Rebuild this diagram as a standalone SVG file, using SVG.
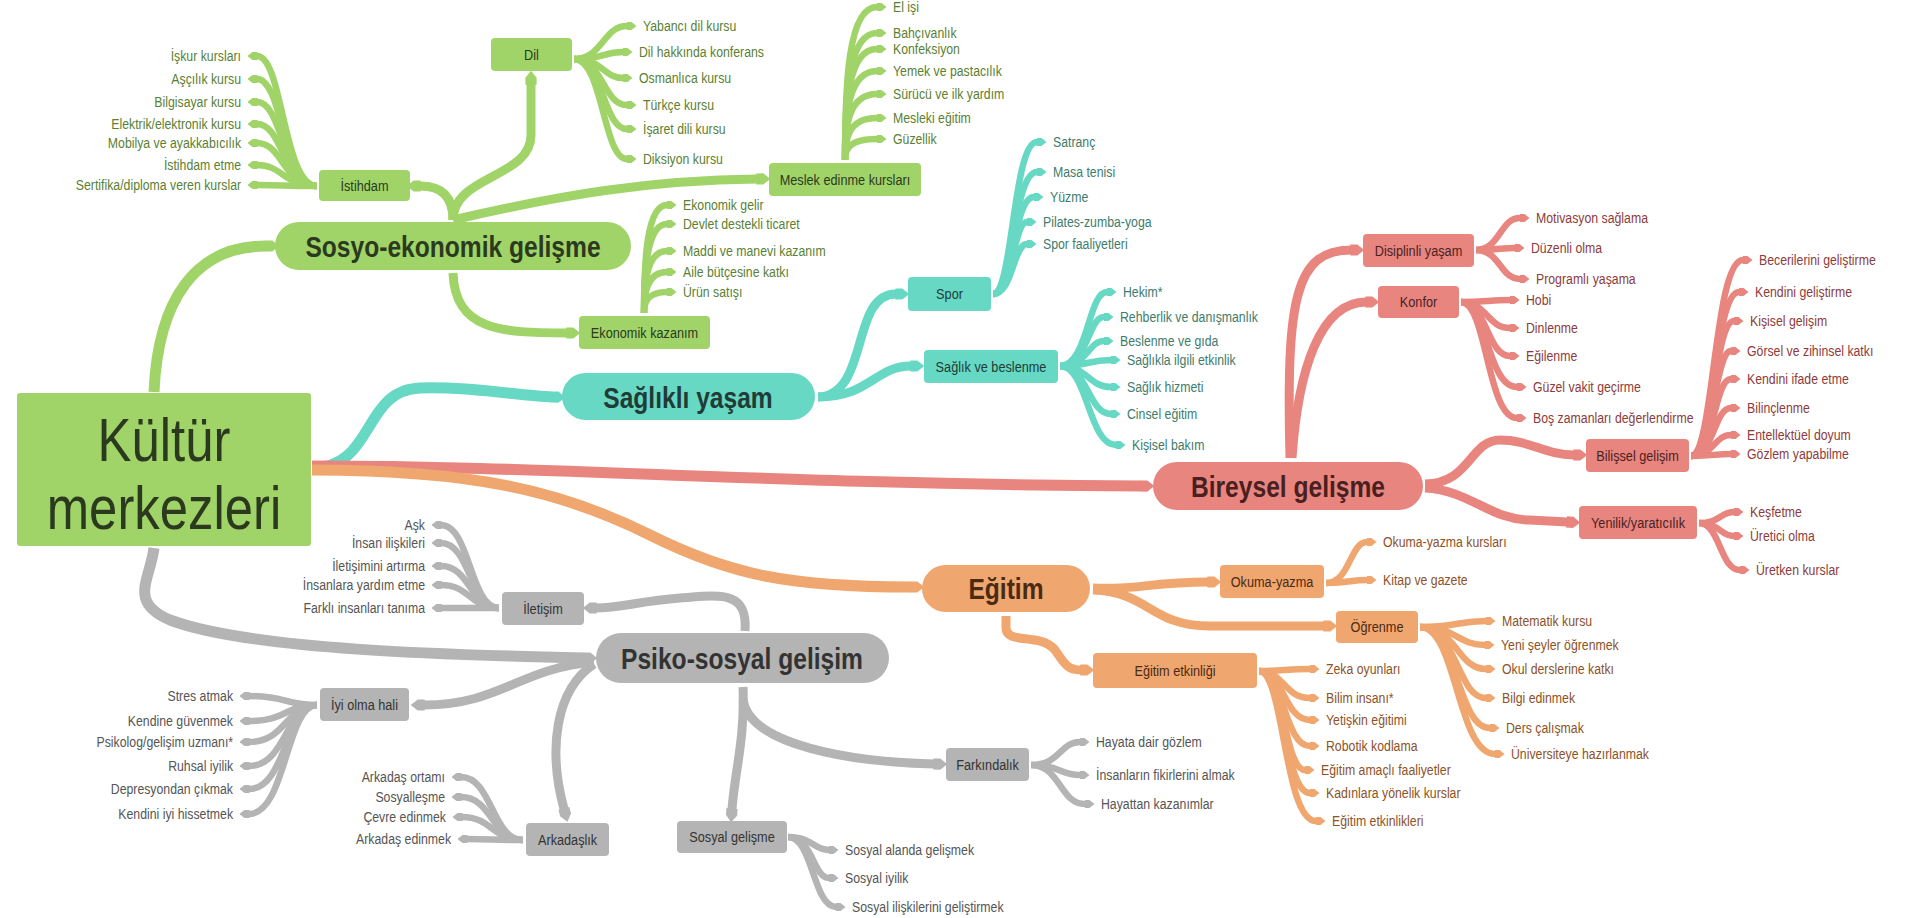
<svg xmlns="http://www.w3.org/2000/svg" width="1907" height="918" viewBox="0 0 1907 918">
<style>
text{font-family:"Liberation Sans Narrow","Liberation Sans",Arial,sans-serif;transform-box:fill-box;transform-origin:left center;transform:scaleX(.82)}
.lf{font-size:15px}
.bx{font-size:15.5px;text-anchor:middle;transform-origin:center}
.mn{font-size:30px;font-weight:bold;text-anchor:middle;transform-origin:center}
.mid{text-anchor:middle;transform-origin:center}
.e{text-anchor:end;transform-origin:right center}
.c{fill:none;stroke-linecap:butt}
.g{stroke:#a0d468}.t{stroke:#66d8c4}.r{stroke:#e8857f}.o{stroke:#f0a66f}.s{stroke:#b4b4b4}
.lw{stroke-width:6.5}.bw{stroke-width:9}.rw{stroke-width:11}
.fg{fill:#a0d468}.ft{fill:#66d8c4}.fr{fill:#e8857f}.fo{fill:#f0a66f}.fs{fill:#b4b4b4}
.tg{fill:#5b7f33}.tt{fill:#3e7c6c}.tr{fill:#8e3b3b}.to{fill:#8d5228}.ts{fill:#555555}
.kg{fill:#2b3a1e}.kt{fill:#213c36}.kr{fill:#4a1f1f}.ko{fill:#4a2a12}.ks{fill:#333333}
</style>
<defs>
<marker id="mg" viewBox="0 -5 10 10" refX="0.5" refY="0" markerWidth="10" markerHeight="10" markerUnits="userSpaceOnUse" orient="auto"><path d="M0,-4 L5,-4 L10,0 L5,4 L0,4 Z" fill="#a0d468"/></marker>
<marker id="mt" viewBox="0 -5 10 10" refX="0.5" refY="0" markerWidth="10" markerHeight="10" markerUnits="userSpaceOnUse" orient="auto"><path d="M0,-4 L5,-4 L10,0 L5,4 L0,4 Z" fill="#66d8c4"/></marker>
<marker id="mr" viewBox="0 -5 10 10" refX="0.5" refY="0" markerWidth="10" markerHeight="10" markerUnits="userSpaceOnUse" orient="auto"><path d="M0,-4 L5,-4 L10,0 L5,4 L0,4 Z" fill="#e8857f"/></marker>
<marker id="mo" viewBox="0 -5 10 10" refX="0.5" refY="0" markerWidth="10" markerHeight="10" markerUnits="userSpaceOnUse" orient="auto"><path d="M0,-4 L5,-4 L10,0 L5,4 L0,4 Z" fill="#f0a66f"/></marker>
<marker id="ms" viewBox="0 -5 10 10" refX="0.5" refY="0" markerWidth="10" markerHeight="10" markerUnits="userSpaceOnUse" orient="auto"><path d="M0,-4 L5,-4 L10,0 L5,4 L0,4 Z" fill="#b4b4b4"/></marker>
<marker id="Mg" viewBox="0 -5 10 10" refX="0.5" refY="0" markerWidth="14" markerHeight="14" markerUnits="userSpaceOnUse" orient="auto"><path d="M0,-4 L5,-4 L10,0 L5,4 L0,4 Z" fill="#a0d468"/></marker>
<marker id="Mt" viewBox="0 -5 10 10" refX="0.5" refY="0" markerWidth="14" markerHeight="14" markerUnits="userSpaceOnUse" orient="auto"><path d="M0,-4 L5,-4 L10,0 L5,4 L0,4 Z" fill="#66d8c4"/></marker>
<marker id="Mr" viewBox="0 -5 10 10" refX="0.5" refY="0" markerWidth="14" markerHeight="14" markerUnits="userSpaceOnUse" orient="auto"><path d="M0,-4 L5,-4 L10,0 L5,4 L0,4 Z" fill="#e8857f"/></marker>
<marker id="Mo" viewBox="0 -5 10 10" refX="0.5" refY="0" markerWidth="14" markerHeight="14" markerUnits="userSpaceOnUse" orient="auto"><path d="M0,-4 L5,-4 L10,0 L5,4 L0,4 Z" fill="#f0a66f"/></marker>
<marker id="Ms" viewBox="0 -5 10 10" refX="0.5" refY="0" markerWidth="14" markerHeight="14" markerUnits="userSpaceOnUse" orient="auto"><path d="M0,-4 L5,-4 L10,0 L5,4 L0,4 Z" fill="#b4b4b4"/></marker>
</defs>
<rect width="1907" height="918" fill="#ffffff"/>

<g id="connectors">
<!-- main branches -->
<path class="c g rw" marker-end="url(#Mg)" d="M154,392 C158,300 195,246 266,246"/>
<path class="c t rw" marker-end="url(#Mt)" d="M312,468 C375,468 362,390 420,388 C470,386 520,396 552,397"/>
<path class="c r rw" marker-end="url(#Mr)" d="M312,466 C560,466 760,484 1141,486"/>
<path class="c o rw" marker-end="url(#Mo)" d="M312,470 C470,470 560,490 650,535 C730,575 790,587 911,587"/>
<path class="c s rw" marker-end="url(#Ms)" d="M154,548 C150,580 128,602 170,620 C250,650 450,655 584,658"/>
<!-- green sub -->
<path class="c g bw" marker-end="url(#Mg)" d="M453,220 C453,195 440,186 420,186"/>
<path class="c g bw" marker-end="url(#Mg)" d="M453,220 C453,175 531,178 531,135 L531,84"/>
<path class="c g bw" marker-end="url(#Mg)" d="M453,220 C560,195 650,180 757,179"/>
<path class="c g bw" marker-end="url(#Mg)" d="M453,273 C455,330 500,333 567,333"/>
<!-- teal sub -->
<path class="c t bw" marker-end="url(#Mt)" d="M818,397 C870,395 850,294 896,294"/>
<path class="c t bw" marker-end="url(#Mt)" d="M818,397 C870,397 875,366 911,366"/>
<!-- red sub -->
<path class="c r bw" marker-end="url(#Mr)" d="M1290,458 C1286,300 1295,250 1351,250"/>
<path class="c r bw" marker-end="url(#Mr)" d="M1292,458 C1298,370 1320,302 1366,302"/>
<path class="c r bw" marker-end="url(#Mr)" d="M1425,484 C1470,484 1470,440 1500,440 C1530,440 1545,455 1574,455"/>
<path class="c r bw" marker-end="url(#Mr)" d="M1425,488 C1470,490 1490,520 1530,520 L1567,522"/>
<!-- orange sub -->
<path class="c o bw" marker-end="url(#Mo)" d="M1093,588 C1140,590 1150,582 1208,582"/>
<path class="c o bw" marker-end="url(#Mo)" d="M1093,590 C1150,592 1150,626 1210,626 L1324,626"/>
<path class="c o bw" marker-end="url(#Mo)" d="M1006,616 L1006,628 C1006,645 1040,632 1055,650 C1065,665 1068,670 1081,670"/>
<!-- grey sub -->
<path class="c s bw" marker-end="url(#Ms)" d="M745,631 C748,590 720,595 680,598 C640,601 620,608 596,608"/>
<path class="c s bw" marker-end="url(#Ms)" d="M594,662 C520,668 500,705 424,705"/>
<path class="c s bw" marker-end="url(#Ms)" d="M594,664 C555,690 548,750 564,809"/>
<path class="c s bw" marker-end="url(#Ms)" d="M743,687 C745,740 735,770 732,809"/>
<path class="c s bw" marker-end="url(#Ms)" d="M743,700 C750,745 850,762 934,764"/>

<g class="c g lw" marker-end="url(#mg)">
<path d="M317,186 C283,186 283,56 257,56"/>
<path d="M317,186 C283,186 283,79 257,79"/>
<path d="M317,186 C283,186 283,102 257,102"/>
<path d="M317,186 C283,186 283,124 257,124"/>
<path d="M317,186 C283,186 283,143 257,143"/>
<path d="M317,186 C283,186 283,165 257,165"/>
<path d="M317,186 C283,186 283,185 257,185"/>
<path d="M574,59 C603,59 603,26 627,26"/>
<path d="M574,59 C603,59 603,52 623,52"/>
<path d="M574,59 C603,59 603,78 623,78"/>
<path d="M574,59 C603,59 603,105 627,105"/>
<path d="M574,59 C603,59 603,129 627,129"/>
<path d="M574,59 C603,59 603,159 627,159"/>
<path d="M845,160 C845,84 848,7 877,7"/>
<path d="M845,160 C845,97 848,33 877,33"/>
<path d="M845,160 C845,105 848,49 877,49"/>
<path d="M845,160 C845,116 848,71 877,71"/>
<path d="M845,160 C845,127 848,94 877,94"/>
<path d="M845,160 C845,139 848,118 877,118"/>
<path d="M845,160 C845,150 848,139 877,139"/>
<path d="M644,313 C644,259 647,205 667,205"/>
<path d="M644,313 C644,269 647,224 667,224"/>
<path d="M644,313 C644,282 647,251 667,251"/>
<path d="M644,313 C644,293 647,272 667,272"/>
<path d="M644,313 C644,303 647,292 667,292"/>
</g>
<g class="c t lw" marker-end="url(#mt)">
<path d="M993,294 C1013,294 1013,142 1037,142"/>
<path d="M993,294 C1013,294 1013,172 1037,172"/>
<path d="M993,294 C1013,294 1013,197 1034,197"/>
<path d="M993,294 C1013,294 1013,222 1027,222"/>
<path d="M993,294 C1013,294 1013,244 1027,244"/>
<path d="M1060,366 C1088,366 1088,292 1107,292"/>
<path d="M1060,366 C1088,366 1088,317 1104,317"/>
<path d="M1060,366 C1088,366 1088,341 1104,341"/>
<path d="M1060,366 C1088,366 1088,360 1111,360"/>
<path d="M1060,366 C1088,366 1088,387 1111,387"/>
<path d="M1060,366 C1088,366 1088,414 1111,414"/>
<path d="M1060,366 C1088,366 1088,445 1116,445"/>
</g>
<g class="c r lw" marker-end="url(#mr)">
<path d="M1476,250 C1500,250 1500,218 1520,218"/>
<path d="M1476,250 C1500,250 1500,248 1515,248"/>
<path d="M1476,250 C1500,250 1500,279 1520,279"/>
<path d="M1461,302 C1487,302 1487,300 1510,300"/>
<path d="M1461,302 C1487,302 1487,328 1510,328"/>
<path d="M1461,302 C1487,302 1487,356 1510,356"/>
<path d="M1461,302 C1487,302 1487,387 1517,387"/>
<path d="M1461,302 C1487,302 1487,418 1517,418"/>
<path d="M1691,456 C1714,456 1714,260 1743,260"/>
<path d="M1691,456 C1714,456 1714,292 1739,292"/>
<path d="M1691,456 C1714,456 1714,321 1734,321"/>
<path d="M1691,456 C1714,456 1714,351 1731,351"/>
<path d="M1691,456 C1714,456 1714,379 1731,379"/>
<path d="M1691,456 C1714,456 1714,408 1731,408"/>
<path d="M1691,456 C1714,456 1714,435 1731,435"/>
<path d="M1691,456 C1714,456 1714,454 1731,454"/>
<path d="M1699,523 C1720,523 1720,512 1734,512"/>
<path d="M1699,523 C1720,523 1720,536 1734,536"/>
<path d="M1699,523 C1720,523 1720,570 1740,570"/>
</g>
<g class="c o lw" marker-end="url(#mo)">
<path d="M1326,583 C1350,583 1350,542 1367,542"/>
<path d="M1326,583 C1350,583 1350,580 1367,580"/>
<path d="M1420,627 C1457,627 1457,621 1486,621"/>
<path d="M1420,627 C1457,627 1457,645 1485,645"/>
<path d="M1420,627 C1457,627 1457,669 1486,669"/>
<path d="M1420,627 C1457,627 1457,698 1486,698"/>
<path d="M1420,627 C1457,627 1457,728 1490,728"/>
<path d="M1420,627 C1457,627 1457,754 1495,754"/>
<path d="M1259,671 C1284,671 1284,669 1310,669"/>
<path d="M1259,671 C1284,671 1284,698 1310,698"/>
<path d="M1259,671 C1284,671 1284,720 1310,720"/>
<path d="M1259,671 C1284,671 1284,746 1310,746"/>
<path d="M1259,671 C1284,671 1284,770 1305,770"/>
<path d="M1259,671 C1284,671 1284,793 1310,793"/>
<path d="M1259,671 C1284,671 1284,821 1316,821"/>
</g>
<g class="c s lw" marker-end="url(#ms)">
<path d="M499,608 C470,608 470,525 441,525"/>
<path d="M499,608 C470,608 470,543 441,543"/>
<path d="M499,608 C470,608 470,566 441,566"/>
<path d="M499,608 C470,608 470,585 441,585"/>
<path d="M499,608 C470,608 470,608 441,608"/>
<path d="M317,705 C286,705 286,696 249,696"/>
<path d="M317,705 C286,705 286,721 249,721"/>
<path d="M317,705 C286,705 286,742 249,742"/>
<path d="M317,705 C286,705 286,766 249,766"/>
<path d="M317,705 C286,705 286,789 249,789"/>
<path d="M317,705 C286,705 286,814 249,814"/>
<path d="M523,840 C492,840 492,777 461,777"/>
<path d="M523,840 C492,840 492,797 461,797"/>
<path d="M523,840 C492,840 492,817 462,817"/>
<path d="M523,840 C492,840 492,839 467,839"/>
<path d="M1031,765 C1060,765 1060,742 1080,742"/>
<path d="M1031,765 C1060,765 1060,775 1080,775"/>
<path d="M1031,765 C1060,765 1060,804 1085,804"/>
<path d="M788,837 C813,837 813,850 829,850"/>
<path d="M788,837 C813,837 813,878 829,878"/>
<path d="M788,837 C813,837 813,907 836,907"/>
</g>
</g>

<g id="n-root">
<rect x="17" y="393" width="294" height="153" rx="3" class="fg"/>
<text x="164" y="461" font-size="62" class="mid kg">Kültür</text>
<text x="164" y="529" font-size="62" class="mid kg">merkezleri</text>
</g>

<g id="n-sosyo"><rect x="275" y="222" width="356" height="48" rx="24" class="fg"/><text x="453" y="257" class="mn kg">Sosyo-ekonomik gelişme</text></g>
<g id="n-saglikli"><rect x="562" y="373" width="253" height="47" rx="23.5" class="ft"/><text x="688" y="408" class="mn kt">Sağlıklı yaşam</text></g>
<g id="n-bireysel"><rect x="1153" y="462" width="270" height="48" rx="24" class="fr"/><text x="1288" y="497" class="mn kr">Bireysel gelişme</text></g>
<g id="n-egitim"><rect x="922" y="565" width="168" height="47" rx="23.5" class="fo"/><text x="1006" y="599" class="mn ko">Eğitim</text></g>
<g id="n-psiko"><rect x="596" y="633" width="293" height="50" rx="25" class="fs"/><text x="742" y="669" class="mn ks">Psiko-sosyal gelişim</text></g>

<g id="n-istihdam"><rect x="319" y="170" width="91" height="31" rx="4" class="fg"/><text x="364.5" y="191" class="bx kg">İstihdam</text></g>
<g id="n-dil"><rect x="491" y="38" width="81" height="33" rx="4" class="fg"/><text x="531.5" y="60" class="bx kg">Dil</text></g>
<g id="n-meslek"><rect x="769" y="163" width="152" height="33" rx="4" class="fg"/><text x="845" y="185" class="bx kg">Meslek edinme kursları</text></g>
<g id="n-ekonomik"><rect x="579" y="316" width="131" height="33" rx="4" class="fg"/><text x="644.5" y="338" class="bx kg">Ekonomik kazanım</text></g>
<g id="n-spor"><rect x="908" y="277" width="83" height="34" rx="4" class="ft"/><text x="949.5" y="299.5" class="bx kt">Spor</text></g>
<g id="n-saglik"><rect x="924" y="350" width="134" height="33" rx="4" class="ft"/><text x="991" y="372" class="bx kt">Sağlık ve beslenme</text></g>
<g id="n-disiplin"><rect x="1363" y="234" width="111" height="33" rx="4" class="fr"/><text x="1418.5" y="256" class="bx kr">Disiplinli yaşam</text></g>
<g id="n-konfor"><rect x="1378" y="286" width="81" height="32" rx="4" class="fr"/><text x="1418.5" y="307.5" class="bx kr">Konfor</text></g>
<g id="n-bilissel"><rect x="1586" y="439" width="103" height="33" rx="4" class="fr"/><text x="1637.5" y="461" class="bx kr">Bilişsel gelişim</text></g>
<g id="n-yenilik"><rect x="1579" y="506" width="118" height="33" rx="4" class="fr"/><text x="1638" y="528" class="bx kr">Yenilik/yaratıcılık</text></g>
<g id="n-okuma"><rect x="1220" y="565" width="104" height="33" rx="4" class="fo"/><text x="1272" y="587" class="bx ko">Okuma-yazma</text></g>
<g id="n-ogrenme"><rect x="1336" y="611" width="82" height="32" rx="4" class="fo"/><text x="1377" y="632.5" class="bx ko">Öğrenme</text></g>
<g id="n-etkinlik"><rect x="1093" y="653" width="164" height="35" rx="4" class="fo"/><text x="1175" y="676" class="bx ko">Eğitim etkinliği</text></g>
<g id="n-iletisim"><rect x="502" y="592" width="82" height="33" rx="4" class="fs"/><text x="543" y="614" class="bx ks">İletişim</text></g>
<g id="n-iyiolma"><rect x="320" y="688" width="89" height="33" rx="4" class="fs"/><text x="364.5" y="710" class="bx ks">İyi olma hali</text></g>
<g id="n-arkadaslik"><rect x="526" y="823" width="83" height="33" rx="4" class="fs"/><text x="567.5" y="845" class="bx ks">Arkadaşlık</text></g>
<g id="n-sosyalgel"><rect x="677" y="821" width="110" height="32" rx="4" class="fs"/><text x="732" y="842.5" class="bx ks">Sosyal gelişme</text></g>
<g id="n-farkindalik"><rect x="946" y="748" width="83" height="33" rx="4" class="fs"/><text x="987.5" y="770" class="bx ks">Farkındalık</text></g>

<g id="leaves-istihdam" class="lf tg">
<g id="l-iskur"><text x="241" y="61" class="e">İşkur kursları</text></g>
<g id="l-ascilik"><text x="241" y="84" class="e">Aşçılık kursu</text></g>
<g id="l-bilgisayar"><text x="241" y="107" class="e">Bilgisayar kursu</text></g>
<g id="l-elektrik"><text x="241" y="129" class="e">Elektrik/elektronik kursu</text></g>
<g id="l-mobilya"><text x="241" y="148" class="e">Mobilya ve ayakkabıcılık</text></g>
<g id="l-istihdametme"><text x="241" y="170" class="e">İstihdam etme</text></g>
<g id="l-sertifika"><text x="241" y="190" class="e">Sertifika/diploma veren kurslar</text></g>
</g>
<g id="leaves-dil" class="lf tg">
<g id="l-yabanci"><text x="643" y="31">Yabancı dil kursu</text></g>
<g id="l-dilhakkinda"><text x="639" y="57">Dil hakkında konferans</text></g>
<g id="l-osmanlica"><text x="639" y="83">Osmanlıca kursu</text></g>
<g id="l-turkce"><text x="643" y="110">Türkçe kursu</text></g>
<g id="l-isaret"><text x="643" y="134">İşaret dili kursu</text></g>
<g id="l-diksiyon"><text x="643" y="164">Diksiyon kursu</text></g>
</g>
<g id="leaves-meslek" class="lf tg">
<g id="l-elisi"><text x="893" y="12">El işi</text></g>
<g id="l-bahcivan"><text x="893" y="38">Bahçıvanlık</text></g>
<g id="l-konfeksiyon"><text x="893" y="54">Konfeksiyon</text></g>
<g id="l-yemek"><text x="893" y="76">Yemek ve pastacılık</text></g>
<g id="l-surucu"><text x="893" y="99">Sürücü ve ilk yardım</text></g>
<g id="l-mesleki"><text x="893" y="123">Mesleki eğitim</text></g>
<g id="l-guzellik"><text x="893" y="144">Güzellik</text></g>
</g>
<g id="leaves-ekonomik" class="lf tg">
<g id="l-gelir"><text x="683" y="210">Ekonomik gelir</text></g>
<g id="l-devlet"><text x="683" y="229">Devlet destekli ticaret</text></g>
<g id="l-maddi"><text x="683" y="256">Maddi ve manevi kazanım</text></g>
<g id="l-aile"><text x="683" y="277">Aile bütçesine katkı</text></g>
<g id="l-urun"><text x="683" y="297">Ürün satışı</text></g>
</g>
<g id="leaves-spor" class="lf tt">
<g id="l-satranc"><text x="1053" y="147">Satranç</text></g>
<g id="l-masa"><text x="1053" y="177">Masa tenisi</text></g>
<g id="l-yuzme"><text x="1050" y="202">Yüzme</text></g>
<g id="l-pilates"><text x="1043" y="227">Pilates-zumba-yoga</text></g>
<g id="l-sporf"><text x="1043" y="249">Spor faaliyetleri</text></g>
</g>
<g id="leaves-saglik" class="lf tt">
<g id="l-hekim"><text x="1123" y="297">Hekim*</text></g>
<g id="l-rehberlik"><text x="1120" y="322">Rehberlik ve danışmanlık</text></g>
<g id="l-beslenme"><text x="1120" y="346">Beslenme ve gıda</text></g>
<g id="l-saglikla"><text x="1127" y="365">Sağlıkla ilgili etkinlik</text></g>
<g id="l-hizmet"><text x="1127" y="392">Sağlık hizmeti</text></g>
<g id="l-cinsel"><text x="1127" y="419">Cinsel eğitim</text></g>
<g id="l-bakim"><text x="1132" y="450">Kişisel bakım</text></g>
</g>
<g id="leaves-disiplin" class="lf tr">
<g id="l-motivasyon"><text x="1536" y="223">Motivasyon sağlama</text></g>
<g id="l-duzenli"><text x="1531" y="253">Düzenli olma</text></g>
<g id="l-programli"><text x="1536" y="284">Programlı yaşama</text></g>
</g>
<g id="leaves-konfor" class="lf tr">
<g id="l-hobi"><text x="1526" y="305">Hobi</text></g>
<g id="l-dinlenme"><text x="1526" y="333">Dinlenme</text></g>
<g id="l-eglenme"><text x="1526" y="361">Eğilenme</text></g>
<g id="l-guzelvakit"><text x="1533" y="392">Güzel vakit geçirme</text></g>
<g id="l-boszaman"><text x="1533" y="423">Boş zamanları değerlendirme</text></g>
</g>
<g id="leaves-bilissel" class="lf tr">
<g id="l-beceri"><text x="1759" y="265">Becerilerini geliştirme</text></g>
<g id="l-kendini"><text x="1755" y="297">Kendini geliştirme</text></g>
<g id="l-kisisel"><text x="1750" y="326">Kişisel gelişim</text></g>
<g id="l-gorsel"><text x="1747" y="356">Görsel ve zihinsel katkı</text></g>
<g id="l-ifade"><text x="1747" y="384">Kendini ifade etme</text></g>
<g id="l-bilinc"><text x="1747" y="413">Bilinçlenme</text></g>
<g id="l-entel"><text x="1747" y="440">Entellektüel doyum</text></g>
<g id="l-gozlem"><text x="1747" y="459">Gözlem yapabilme</text></g>
</g>
<g id="leaves-yenilik" class="lf tr">
<g id="l-kesfet"><text x="1750" y="517">Keşfetme</text></g>
<g id="l-uretici"><text x="1750" y="541">Üretici olma</text></g>
<g id="l-uretken"><text x="1756" y="575">Üretken kurslar</text></g>
</g>
<g id="leaves-okuma" class="lf to">
<g id="l-okumakurs"><text x="1383" y="547">Okuma-yazma kursları</text></g>
<g id="l-kitap"><text x="1383" y="585">Kitap ve gazete</text></g>
</g>
<g id="leaves-ogrenme" class="lf to">
<g id="l-matematik"><text x="1502" y="626">Matematik kursu</text></g>
<g id="l-yeni"><text x="1501" y="650">Yeni şeyler öğrenmek</text></g>
<g id="l-okul"><text x="1502" y="674">Okul derslerine katkı</text></g>
<g id="l-bilgi"><text x="1502" y="703">Bilgi edinmek</text></g>
<g id="l-ders"><text x="1506" y="733">Ders çalışmak</text></g>
<g id="l-univ"><text x="1511" y="759">Üniversiteye hazırlanmak</text></g>
</g>
<g id="leaves-etkinlik" class="lf to">
<g id="l-zeka"><text x="1326" y="674">Zeka oyunları</text></g>
<g id="l-bilim"><text x="1326" y="703">Bilim insanı*</text></g>
<g id="l-yetiskin"><text x="1326" y="725">Yetişkin eğitimi</text></g>
<g id="l-robotik"><text x="1326" y="751">Robotik kodlama</text></g>
<g id="l-amacli"><text x="1321" y="775">Eğitim amaçlı faaliyetler</text></g>
<g id="l-kadin"><text x="1326" y="798">Kadınlara yönelik kurslar</text></g>
<g id="l-etkinlikler"><text x="1332" y="826">Eğitim etkinlikleri</text></g>
</g>
<g id="leaves-iletisim" class="lf ts">
<g id="l-ask"><text x="425" y="530" class="e">Aşk</text></g>
<g id="l-insan"><text x="425" y="548" class="e">İnsan ilişkileri</text></g>
<g id="l-iletisimini"><text x="425" y="571" class="e">İletişimini artırma</text></g>
<g id="l-yardim"><text x="425" y="590" class="e">İnsanlara yardım etme</text></g>
<g id="l-farkli"><text x="425" y="613" class="e">Farklı insanları tanıma</text></g>
</g>
<g id="leaves-iyiolma" class="lf ts">
<g id="l-stres"><text x="233" y="701" class="e">Stres atmak</text></g>
<g id="l-guven"><text x="233" y="726" class="e">Kendine güvenmek</text></g>
<g id="l-psikolog"><text x="233" y="747" class="e">Psikolog/gelişim uzmanı*</text></g>
<g id="l-ruhsal"><text x="233" y="771" class="e">Ruhsal iyilik</text></g>
<g id="l-depresyon"><text x="233" y="794" class="e">Depresyondan çıkmak</text></g>
<g id="l-iyihis"><text x="233" y="819" class="e">Kendini iyi hissetmek</text></g>
</g>
<g id="leaves-arkadaslik" class="lf ts">
<g id="l-ortam"><text x="445" y="782" class="e">Arkadaş ortamı</text></g>
<g id="l-sosyallesme"><text x="445" y="802" class="e">Sosyalleşme</text></g>
<g id="l-cevre"><text x="446" y="822" class="e">Çevre edinmek</text></g>
<g id="l-edinmek"><text x="451" y="844" class="e">Arkadaş edinmek</text></g>
</g>
<g id="leaves-farkindalik" class="lf ts">
<g id="l-hayata"><text x="1096" y="747">Hayata dair gözlem</text></g>
<g id="l-fikir"><text x="1096" y="780">İnsanların fikirlerini almak</text></g>
<g id="l-hayattan"><text x="1101" y="809">Hayattan kazanımlar</text></g>
</g>
<g id="leaves-sosyal" class="lf ts">
<g id="l-alanda"><text x="845" y="855">Sosyal alanda gelişmek</text></g>
<g id="l-iyilik"><text x="845" y="883">Sosyal iyilik</text></g>
<g id="l-iliskiler"><text x="852" y="912">Sosyal ilişkilerini geliştirmek</text></g>
</g>
</svg>
